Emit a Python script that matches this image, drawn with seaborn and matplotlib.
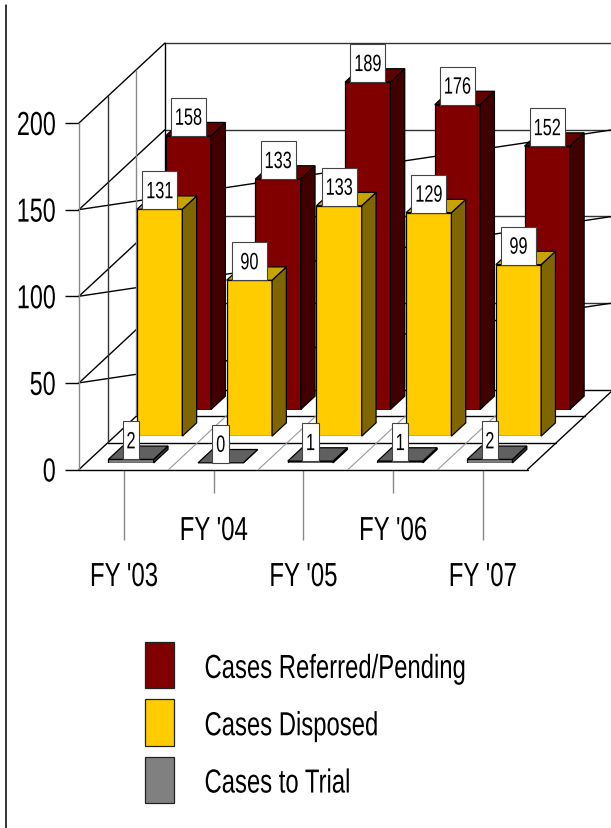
import seaborn as sns
import matplotlib
matplotlib.use('Agg')
import matplotlib.pyplot as plt
from matplotlib.lines import Line2D
from matplotlib.patches import Patch, Rectangle
from matplotlib.patheffects import AbstractPathEffect
from matplotlib.transforms import Affine2D

years = ["FY '03", "FY '04", "FY '05", "FY '06", "FY '07"]
referred = [158, 133, 189, 176, 152]
disposed = [131, 90, 133, 129, 99]
trial = [2, 0, 1, 1, 2]
series_names = ['Cases Referred/Pending', 'Cases Disposed', 'Cases to Trial']
y_ticks = [0, 50, 100, 150, 200]

W, H = 611, 829
X0, Y0 = 79, 470.5    # front left corner of the floor, pixels
PLOT_W, PLOT_H = 448.5, 346.5
DEPTH_PX = (86, 80)   # whole floor depth, pixels
PX_X = PLOT_W / 5     # pixels per category
PX_Y = PLOT_H / 200   # pixels per case

# colours: front, side, top
RED = ('#800000', '#400000', '#600000')
YELLOW = ('#ffcc00', '#806600', '#c9a400')
GREY = ('#808080', '#404040', '#606060')


class Squeeze(AbstractPathEffect):
    """Narrows a text horizontally, the reference uses a condensed face."""

    def __init__(self, sx=0.71, anchor='center', down=0):
        super().__init__()
        self.sx = sx
        self.anchor = anchor
        self.down = down

    def draw_path(self, renderer, gc, tpath, affine, rgbFace=None):
        ext = tpath.get_extents()
        pivot = {'left': ext.x0, 'center': (ext.x0 + ext.x1) / 2, 'right': ext.x1}[self.anchor]
        squeeze = Affine2D().translate(-pivot, 0).scale(self.sx, 1).translate(pivot, 0)
        renderer.draw_path(gc, tpath, squeeze + affine + Affine2D().translate(0, -self.down), rgbFace)


sns.set_style('white')
plt.rcParams['font.family'] = ['Liberation Sans', 'DejaVu Sans']

fig = plt.figure(figsize=(W / 100, H / 100), dpi=100)


def add_axes_at(dx=0, dy=0):
    ax = fig.add_axes([(X0 + dx) / W, 1 - (Y0 - dy) / H, PLOT_W / W, PLOT_H / H])
    ax.set_xlim(-0.5, 4.5)
    ax.set_ylim(0, 200)
    return ax


# base axes: walls, floor, ticks
base = add_axes_at()
base.patch.set_visible(False)
sns.despine(ax=base, left=True, bottom=True, right=True, top=True)
ddx = DEPTH_PX[0] / PX_X
ddy = DEPTH_PX[1] / PX_Y
x_l, x_r = -0.5, 4.5


def line(xs, ys, color='black', lw=1.0):
    base.add_line(Line2D(xs, ys, color=color, lw=lw, clip_on=False))


# back wall and the slanted lines running across it
for v in y_ticks:
    line([x_l + ddx, x_r + ddx], [v + ddy, v + ddy], color='#333333' if v else 'black')
    line([x_l, x_l + ddx], [v, v + ddy])
    if 0 < v < 200:
        line([x_l, x_r + ddx], [v, v + ddy])
line([x_l + ddx, x_l + ddx], [ddy, 200 + ddy])

# row dividers on the left wall and on the floor
for i in range(3):
    f = i / 3
    line([x_l + ddx * f, x_l + ddx * f], [ddy * f, 200 + ddy * f], color='#888888' if i != 1 else '#333333')
    line([x_l + ddx * f, x_r + ddx * f], [ddy * f, ddy * f])
line([x_r, x_r + ddx], [0, ddy])

# category dividers on the floor
for b in range(1, 5):
    line([x_l + b, x_l + b + ddx], [0, ddy], color='#999999', lw=0.8)

# ticks
base.set_yticks(y_ticks)
base.set_xticks([0, 2, 4], [years[0], years[2], years[4]])
base.set_xticks([1, 3], [years[1], years[3]], minor=True)
base.tick_params(axis='y', left=True, length=10, width=1.0, color='black', pad=6.5,
                 labelsize=24, labelcolor='black')
base.tick_params(axis='x', which='major', bottom=True, length=50.4, width=1.0, color='#888888', pad=16.2,
                 labelsize=24, labelcolor='black')
base.tick_params(axis='x', which='minor', bottom=True, length=16.5, width=1.0, color='#888888', pad=17,
                 labelsize=24, labelcolor='black')
base.set_xlabel('')
base.set_ylabel('')
for t in base.get_yticklabels():
    t.set_path_effects([Squeeze(0.70, 'right')])
for t in base.get_xticklabels() + base.get_xticklabels(minor=True):
    t.set_path_effects([Squeeze(0.72, 'center')])


def draw_row(values, colors, row):
    dx = DEPTH_PX[0] * (row + 0.25) / 3
    dy = DEPTH_PX[1] * (row + 0.25) / 3
    ax = add_axes_at(dx, dy)
    sns.barplot(x=years, y=values, color=colors[0], saturation=1, width=0.505,
                edgecolor='black', linewidth=0.9, errorbar=None, ax=ax)
    ax.set_xlim(-0.5, 4.5)
    ax.set_ylim(0, 200)
    ax.axis('off')

    # depth of one bar is half a row
    bx = DEPTH_PX[0] / 6 / PX_X
    by = DEPTH_PX[1] / 6 / PX_Y
    for bar, v in zip(ax.patches, values):
        x0 = bar.get_x()
        x1 = x0 + bar.get_width()
        ax.fill([x1, x1 + bx, x1 + bx, x1], [0, by, v + by, v], facecolor=colors[1],
                edgecolor='black', lw=0.9, clip_on=False)
        ax.fill([x0, x1, x1 + bx, x0 + bx], [v, v, v + by, v + by], facecolor=colors[2],
                edgecolor='black', lw=0.9, clip_on=False)

    # value labels in white boxes sitting on the front face
    for bar, v in zip(ax.patches, values):
        cx = bar.get_x() + bar.get_width() / 2
        box_w = (35 if v >= 10 else 16.5) / PX_X
        box_h = 38 / PX_Y
        ax.add_patch(Rectangle((cx - box_w / 2, v), box_w, box_h, facecolor='white',
                               edgecolor='#444444', lw=0.8, clip_on=False, zorder=5))
        ax.text(cx, v + box_h / 2 - 2 / PX_Y, str(v), ha='center', va='center', fontsize=17,
                color='black', zorder=6, clip_on=False,
                path_effects=[Squeeze(0.69, 'center')])
    return ax


draw_row(referred, RED, 2)
draw_row(disposed, YELLOW, 1)
draw_row(trial, GREY, 0)

# legend
handles = [Patch(facecolor=c[0], edgecolor='#222222', lw=0.9) for c in (RED, YELLOW, GREY)]
leg = fig.legend(handles, series_names, loc='upper left', bbox_to_anchor=(145 / W, 1 - 643 / H),
                 frameon=False, fontsize=24, handlelength=0.87, handleheight=1.76,
                 labelspacing=0.33, handletextpad=0.9, borderpad=0, borderaxespad=0,
                 labelcolor='black')
for t in leg.get_texts():
    t.set_path_effects([Squeeze(0.716, 'left', down=2)])

# rule at the left edge of the page
fig.add_artist(Line2D([5.5 / W, 5.5 / W], [0, 1 - 6 / H], color='black', lw=1.1, transform=fig.transFigure))

fig.savefig('out.png', dpi=100)
